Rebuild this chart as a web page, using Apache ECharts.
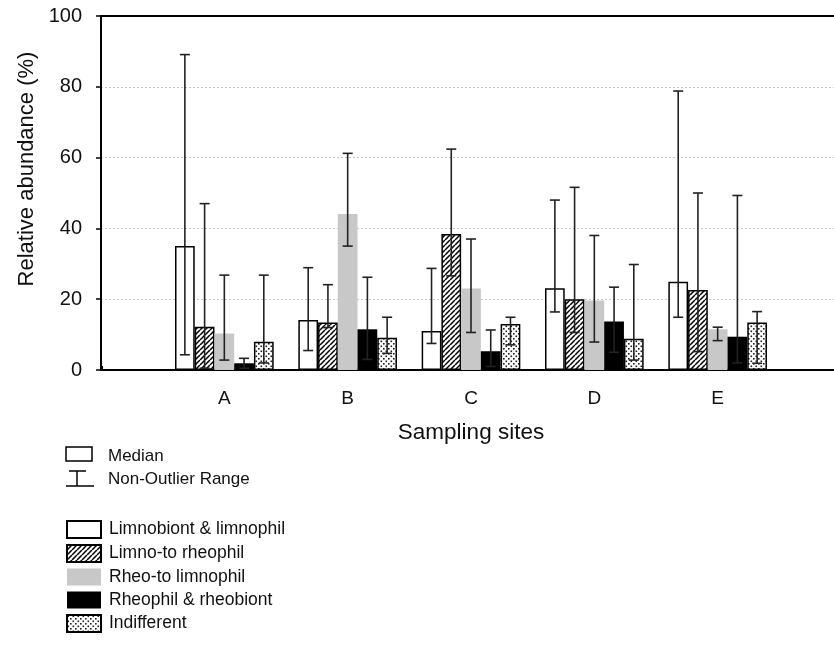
<!DOCTYPE html>
<html>
<head>
<meta charset="utf-8">
<script src="https://cdn.jsdelivr.net/npm/echarts@6/dist/echarts.min.js"></script>
<style>
  html, body { margin: 0; padding: 0; background: #fff; }
  #main { width: 834px; height: 649px; }
</style>
</head>
<body>
<div id="main"></div>
<script>
// site labels, padded with empty slots so the axis runs one unit past A and E
let sites = ['', 'A', 'B', 'C', 'D', 'E', ''];

// medians per group
let limnobiont = [35.0, 14.1, 11.0, 23.1, 24.9];
let limnoRheo = [12.2, 13.4, 38.4, 20.0, 22.6];
let rheoLimno = [10.3, 44.1, 23.0, 19.6, 11.5];
let rheophil = [1.9, 11.5, 5.3, 13.7, 9.4];
let indifferent = [8.0, 9.1, 13.0, 8.8, 13.4];

// non-outlier ranges
let limnobiontLow = [4.3, 5.5, 7.5, 16.4, 14.9];
let limnobiontHigh = [89.1, 28.9, 28.7, 48.0, 78.8];
let limnoRheoLow = [0.5, 12.0, 26.6, 10.6, 5.2];
let limnoRheoHigh = [47.0, 24.1, 62.4, 51.6, 50.0];
let rheoLimnoLow = [2.8, 35.0, 10.6, 7.9, 8.3];
let rheoLimnoHigh = [26.8, 61.2, 37.0, 38.0, 12.1];
let rheophilLow = [0.5, 3.0, 1.0, 5.0, 2.0];
let rheophilHigh = [3.3, 26.2, 11.3, 23.4, 49.3];
let indifferentLow = [2.0, 4.7, 7.1, 2.8, 1.9];
let indifferentHigh = [26.8, 14.9, 14.9, 29.8, 16.5];

let yTicks = [0, 20, 40, 60, 80, 100];

let font = 'Liberation Sans, Arial, Helvetica, sans-serif';

function hatchPattern() {
    let c = document.createElement('canvas');
    c.width = 5; c.height = 5;
    let ctx = c.getContext('2d');
    ctx.fillStyle = '#fff';
    ctx.fillRect(0, 0, 5, 5);
    ctx.strokeStyle = '#000';
    ctx.lineWidth = 1.5;
    ctx.beginPath();
    for (let k = -1; k <= 1; k++) {
        ctx.moveTo(k * 5, 5);
        ctx.lineTo(k * 5 + 5, 0);
    }
    ctx.stroke();
    return { image: c, repeat: 'repeat' };
}

function dotPattern() {
    let c = document.createElement('canvas');
    c.width = 5; c.height = 5;
    let ctx = c.getContext('2d');
    ctx.fillStyle = '#fff';
    ctx.fillRect(0, 0, 5, 5);
    ctx.fillStyle = '#222';
    ctx.fillRect(0.5, 0.5, 1.6, 1.6);
    ctx.fillRect(3, 3, 1.6, 1.6);
    return { image: c, repeat: 'repeat' };
}

function pad(arr) {
    return ['-'].concat(arr).concat(['-']);
}

function ranges(lo, hi) {
    return lo.map(function (v, i) { return [i + 1, v, hi[i]]; });
}

function errorSeries(idx, lo, hi) {
    return {
        type: 'custom',
        z: 10,
        data: ranges(lo, hi),
        renderItem: function (params, api) {
            let x = api.value(0);
            let band = api.coord([2, 0])[0] - api.coord([1, 0])[0];
            let barW = band * 0.8 / 5;
            let cx = api.coord([x, 0])[0] + (idx - 2) * barW;
            let yLo = api.coord([x, api.value(1)])[1];
            let yHi = api.coord([x, api.value(2)])[1];
            let cap = 5;
            let st = { stroke: '#222', lineWidth: 1.6 };
            return {
                type: 'group',
                children: [
                    { type: 'line', shape: { x1: cx, y1: yLo, x2: cx, y2: yHi }, style: st },
                    { type: 'line', shape: { x1: cx - cap, y1: yHi, x2: cx + cap, y2: yHi }, style: st },
                    { type: 'line', shape: { x1: cx - cap, y1: yLo, x2: cx + cap, y2: yLo }, style: st }
                ]
            };
        }
    };
}

let chartDom = document.getElementById('main');
let myChart = echarts.init(chartDom);

let names = ['Limnobiont & limnophil', 'Limno-to rheophil', 'Rheo-to limnophil', 'Rheophil & rheobiont', 'Indifferent'];
let styles = [
    { color: '#fff', borderColor: '#000', borderWidth: 1.5 },
    { color: hatchPattern(), borderColor: '#000', borderWidth: 1.5 },
    { color: '#c8c8c8', borderWidth: 0 },
    { color: '#000', borderWidth: 0 },
    { color: dotPattern(), borderColor: '#000', borderWidth: 1.5 }
];
let values = [limnobiont, limnoRheo, rheoLimno, rheophil, indifferent];
let lows = [limnobiontLow, limnoRheoLow, rheoLimnoLow, rheophilLow, indifferentLow];
let highs = [limnobiontHigh, limnoRheoHigh, rheoLimnoHigh, rheophilHigh, indifferentHigh];

let series = [];
names.forEach(function (n, i) {
    series.push({
        name: n,
        type: 'bar',
        barGap: '0%',
        barCategoryGap: '20%',
        itemStyle: styles[i],
        emphasis: { disabled: true },
        data: pad(values[i])
    });
});
names.forEach(function (n, i) {
    series.push(errorSeries(i, lows[i], highs[i]));
});

let option = {
    animation: false,
    backgroundColor: '#fff',
    grid: {
        left: 101,
        width: 740,
        top: 16,
        height: 354,
        containLabel: false,
        outerBoundsMode: 'none'
    },
    xAxis: [{
        type: 'category',
        data: sites,
        boundaryGap: false,
        name: 'Sampling sites',
        nameLocation: 'middle',
        nameGap: 51,
        nameTextStyle: { fontFamily: font, fontSize: 22.5, color: '#111' },
        axisLine: { lineStyle: { color: '#000', width: 2 } },
        axisTick: { inside: true, length: 4, lineStyle: { color: '#000', width: 3 } },
        axisLabel: { fontFamily: font, fontSize: 19, color: '#111', margin: 19, interval: 0 },
        splitLine: { show: false }
    }, {
        type: 'category',
        data: sites,
        boundaryGap: false,
        position: 'top',
        axisLine: { lineStyle: { color: '#000', width: 2 } },
        axisTick: { show: false },
        axisLabel: { show: false },
        splitLine: { show: false }
    }],
    yAxis: {
        type: 'value',
        min: 0,
        max: 100,
        interval: 20,
        name: 'Relative abundance (%)',
        nameLocation: 'middle',
        nameGap: 63,
        nameTextStyle: { fontFamily: font, fontSize: 22, color: '#111', padding: [0, 0, 0, 48] },
        axisLine: { show: true, lineStyle: { color: '#000', width: 2 } },
        axisTick: { show: true, length: 5, lineStyle: { color: '#000', width: 1.5 } },
        axisLabel: {
            fontFamily: font, fontSize: 20, color: '#111', margin: 19,
            formatter: function (v) { return yTicks.indexOf(v) >= 0 ? String(v) : ''; }
        },
        splitLine: { lineStyle: { color: '#c4c4c4', width: 1, type: [2, 2] } }
    },
    legend: {
        orient: 'vertical',
        left: 66,
        top: 520,
        padding: 0,
        itemWidth: 34,
        itemHeight: 17,
        itemGap: 5,
        icon: 'rect',
        selectedMode: false,
        data: names,
        textStyle: { fontFamily: font, fontSize: 17.5, lineHeight: 17, color: '#111', padding: [0, 0, 0, 3] }
    },
    graphic: [
        { type: 'rect', shape: { x: 66, y: 447, width: 26, height: 14 }, style: { fill: '#fff', stroke: '#000', lineWidth: 1.5 } },
        { type: 'text', style: { x: 108, y: 456, text: 'Median', font: '17px ' + font, fill: '#111', verticalAlign: 'middle' } },
        { type: 'line', shape: { x1: 69, y1: 471, x2: 86, y2: 471 }, style: { stroke: '#000', lineWidth: 1.5 } },
        { type: 'line', shape: { x1: 77, y1: 471, x2: 77, y2: 486 }, style: { stroke: '#000', lineWidth: 1.5 } },
        { type: 'line', shape: { x1: 66, y1: 486, x2: 94, y2: 486 }, style: { stroke: '#000', lineWidth: 1.5 } },
        { type: 'text', style: { x: 108, y: 479, text: 'Non-Outlier Range', font: '17px ' + font, fill: '#111', verticalAlign: 'middle' } }
    ],
    series: series
};

myChart.setOption(option);
</script>
</body>
</html>
